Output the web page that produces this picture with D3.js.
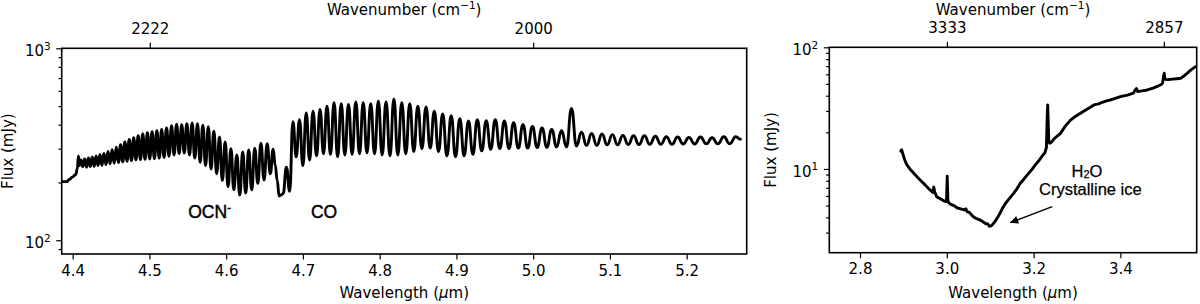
<!DOCTYPE html>
<html>
<head>
<meta charset="utf-8">
<script src="https://cdn.jsdelivr.net/npm/d3@7"></script>
<style>
    body { margin: 0; background: #fff; }
    svg text { fill: #000; }
</style>
</head>
<body>
<svg id="chart" width="1200" height="304"></svg>
<script>
// ---- left panel: 4.4 - 5.3 um spectrum (mJy) ----
// leading continuum before the CO R branch
const startWl = [4.386, 4.392, 4.396, 4.400, 4.404, 4.406, 4.4075];
const startFlux = [202, 202, 208, 214, 220, 235, 275];

// CO R-branch lines: flux at line, flux of the peak that follows
const rWl = [4.4085, 4.4132, 4.4181, 4.4230, 4.4280, 4.4331, 4.4381, 4.4434, 4.4487, 4.4541,
    4.4596, 4.4652, 4.4708, 4.4766, 4.4824, 4.4883, 4.4943, 4.5004, 4.5065, 4.5128,
    4.5191, 4.5255, 4.5321, 4.5387, 4.5454, 4.5522, 4.5591, 4.5661, 4.5731, 4.5803,
    4.5876, 4.5950, 4.6024, 4.6100, 4.6177, 4.6254, 4.6333, 4.6412, 4.6493, 4.6575];
const rBottom = [245, 242, 240, 242, 243, 245, 246, 248, 250, 252,
    254, 256, 258, 260, 262, 263, 264, 265, 266, 268,
    270, 274, 278, 283, 285, 278, 268, 255, 245, 235,
    222, 205, 190, 183, 172, 176, 183, 198, 206, 222];
const rTop = [262, 265, 268, 272, 275, 280, 283, 290, 296, 305,
    315, 325, 335, 342, 350, 358, 363, 368, 372, 378,
    385, 395, 402, 400, 405, 408, 405, 398, 390, 370,
    345, 325, 300, 278, 288, 295, 302, 320, 318];

// band gap dip between the branches
const gapWl = [4.6612, 4.6640, 4.6665, 4.6690, 4.6712];
const gapFlux = [298, 245, 205, 170, 172];

// CO P-branch lines
const pWl = [4.6742, 4.6827, 4.6912, 4.6999, 4.7087, 4.7177, 4.7268, 4.7359, 4.7452, 4.7546,
    4.7641, 4.7737, 4.7834, 4.7933, 4.8032, 4.8134, 4.8236, 4.8340, 4.8444, 4.8550,
    4.8658, 4.8766, 4.8876, 4.8988, 4.9100, 4.9214, 4.9330, 4.9447, 4.9565, 4.9685,
    4.9806, 4.9928, 5.0052, 5.0178, 5.0305, 5.0434, 5.0564, 5.0695, 5.0829, 5.0964,
    5.1100, 5.1238, 5.1378, 5.1520, 5.1663, 5.1808, 5.1955, 5.2104, 5.2255, 5.2407,
    5.2561];
const pBottom = [175, 180, 272, 245, 262, 275, 282, 280, 272, 278,
    280, 282, 285, 282, 278, 275, 278, 282, 290, 300,
    302, 290, 275, 272, 275, 280, 292, 298, 300, 300,
    302, 302, 304, 305, 306, 306, 310, 312, 312, 314,
    314, 315, 315, 316, 316, 316, 317, 317, 318, 318,
    318];
const pTop = [240, 415, 425, 460, 470, 480, 500, 520, 515, 510,
    525, 520, 515, 530, 525, 545, 520, 515, 500, 495,
    470, 455, 445, 430, 418, 425, 420, 425, 418, 410,
    400, 392, 385, 378, 372, 486, 365, 360, 358, 355,
    352, 350, 350, 348, 346, 345, 343, 345, 342, 346];
const endWl = [5.2640, 5.2700];
const endFlux = [346, 336];

// ---- right panel: 2.9 - 3.6 um (mJy) ----
const rightWl = [2.894, 2.896, 2.899, 2.903, 2.908, 2.915, 2.923, 2.933, 2.942, 2.950,
    2.958, 2.964, 2.968, 2.970, 2.972, 2.977, 2.985, 2.992, 2.998, 2.9995,
    3.0010, 3.0025, 3.004, 3.010, 3.017, 3.023, 3.032, 3.040, 3.044, 3.047,
    3.052, 3.061, 3.069, 3.077, 3.085, 3.090, 3.094, 3.098, 3.103, 3.107,
    3.111, 3.117, 3.123, 3.129, 3.135, 3.144, 3.154, 3.162, 3.169, 3.177,
    3.185, 3.195, 3.204, 3.213, 3.220, 3.226, 3.2295, 3.2315, 3.2325, 3.2335,
    3.235, 3.237, 3.241, 3.248, 3.255, 3.262, 3.273, 3.285, 3.296, 3.308,
    3.320, 3.330, 3.339, 3.350, 3.360, 3.368, 3.377, 3.390, 3.400, 3.416,
    3.430, 3.434, 3.437, 3.440, 3.450, 3.462, 3.475, 3.485, 3.492, 3.497,
    3.4995, 3.501, 3.503, 3.510, 3.520, 3.530, 3.539, 3.550, 3.562, 3.573];
const rightFlux = [14.0, 14.4, 13.2, 11.9, 10.8, 10.0, 9.3, 8.5, 7.9, 7.4,
    6.9, 6.6, 6.4, 7.1, 6.5, 5.9, 5.7, 5.5, 5.4, 5.6,
    8.7, 5.5, 5.3, 5.1, 5.0, 4.8, 4.7, 4.6, 4.7, 4.45,
    4.4, 4.05, 3.9, 3.8, 3.65, 3.55, 3.55, 3.38, 3.42, 3.55,
    3.7, 4.0, 4.35, 4.8, 5.2, 5.7, 6.3, 6.9, 7.6, 8.2,
    8.9, 9.8, 10.8, 11.8, 12.8, 13.6, 15, 28, 33.6, 26,
    17, 16.3, 16.6, 17.8, 18.7, 19.6, 22.5, 25.2, 27, 28.7,
    30.5, 32, 33.6, 34.3, 35.5, 36.3, 36.9, 38.2, 39.3, 40.5,
    42.0, 44.5, 45.8, 43.2, 43.8, 44.6, 46.2, 47.8, 49, 50.5,
    58, 61.2, 54.5, 54.2, 54.8, 55.2, 55.6, 59.5, 65, 69.3];

// ---- ticks ----
const leftXTicks = [4.4, 4.5, 4.6, 4.7, 4.8, 4.9, 5.0, 5.1, 5.2];
const rightXTicks = [2.8, 3.0, 3.2, 3.4];
const leftTopTicks = [2222, 2000];   // cm^-1
const rightTopTicks = [3333, 2857];
const leftYTicks = [100, 1000];
const rightYTicks = [10, 100];

// line dips and the peaks between them
function addTeeth(pts, wl, bottom, top) {
    wl.forEach((w, i) => {
        pts.push([w, bottom[i]]);
        if (i < top.length) pts.push([(w + wl[i + 1]) / 2, top[i]]);
    });
}

const leftSeries = startWl.map((w, i) => [w, startFlux[i]]);
addTeeth(leftSeries, rWl, rBottom, rTop);
gapWl.forEach((w, i) => leftSeries.push([w, gapFlux[i]]));
addTeeth(leftSeries, pWl, pBottom, pTop);
endWl.forEach((w, i) => leftSeries.push([w, endFlux[i]]));

const rightSeries = rightWl.map((w, i) => [w, rightFlux[i]]);

const svg = d3.select("#chart");
const tickFont = "DejaVu Sans, sans-serif";
const annFont = "Liberation Sans, Arial, sans-serif";

const panels = [
    { id: "left", left: 61.7, right: 746.7, top: 48.3, bottom: 254,
      xDom: [4.3857, 5.2782], yDom: [84.8, 1000], data: leftSeries, curve: d3.curveBumpX,
      xTicks: leftXTicks, wn: leftTopTicks, yTicks: leftYTicks, ylabX: 13 },
    { id: "right", left: 829.3, right: 1196.7, top: 47.3, bottom: 252.7,
      xDom: [2.7293, 3.5758], yDom: [2.05, 100], data: rightSeries, curve: d3.curveLinear,
      xTicks: rightXTicks, wn: rightTopTicks, yTicks: rightYTicks, ylabX: 776 }
];

panels.forEach(p => {
    const x = d3.scaleLinear().domain(p.xDom).range([p.left, p.right]);
    const y = d3.scaleLog().domain(p.yDom).range([p.bottom, p.top]);
    p.x = x;
    p.y = y;
    const g = svg.append("g").attr("id", p.id);

    g.append("clipPath").attr("id", p.id + "-clip")
        .append("rect")
        .attr("x", p.left).attr("y", p.top)
        .attr("width", p.right - p.left).attr("height", p.bottom - p.top);

    g.append("path")
        .datum(p.data)
        .attr("clip-path", `url(#${p.id}-clip)`)
        .attr("d", d3.line().curve(p.curve).x(d => x(d[0])).y(d => y(d[1])))
        .attr("fill", "none")
        .attr("stroke", "#000")
        .attr("stroke-width", 2.9)
        .attr("stroke-linejoin", "round")
        .attr("stroke-linecap", "round");

    // bottom axis
    const bx = g.append("g")
        .attr("transform", `translate(0,${p.bottom})`)
        .call(d3.axisBottom(x).tickValues(p.xTicks).tickFormat(d3.format(".1f"))
            .tickSize(5.5).tickPadding(5.5));
    // top axis, in wavenumber
    const tx = g.append("g")
        .attr("transform", `translate(0,${p.top})`)
        .call(d3.axisTop(x).tickValues(p.wn.map(v => 1e4 / v)).tickFormat((d, i) => p.wn[i])
            .tickSize(5.5).tickPadding(8.5));
    // log y axis: major and minor ticks
    const minor = y.ticks().filter(v => !p.yTicks.includes(v));
    const ly = g.append("g")
        .attr("transform", `translate(${p.left},0)`)
        .call(d3.axisLeft(y).tickValues(p.yTicks).tickFormat("").tickSize(5.5));
    const lm = g.append("g")
        .attr("transform", `translate(${p.left},0)`)
        .call(d3.axisLeft(y).tickValues(minor).tickFormat("").tickSize(3.2));

    [bx, tx, ly, lm].forEach(a => {
        a.select(".domain").remove();
        a.selectAll("line").attr("stroke-width", 1.2);
        a.selectAll("text").attr("font-family", tickFont).attr("font-size", 15);
    });

    p.yTicks.forEach(v => {
        const t = g.append("text")
            .attr("x", p.left - 11)
            .attr("y", y(v) + 8)
            .attr("text-anchor", "end")
            .attr("font-family", tickFont)
            .attr("font-size", 15);
        t.append("tspan").text("10");
        t.append("tspan").attr("font-size", 10.5).attr("dy", -6.5).text(Math.round(Math.log10(v)));
    });

    // frame
    g.append("rect")
        .attr("x", p.left).attr("y", p.top)
        .attr("width", p.right - p.left).attr("height", p.bottom - p.top)
        .attr("fill", "none").attr("stroke", "#000").attr("stroke-width", 1.6);

    const cx = (p.left + p.right) / 2;
    const xl = g.append("text")
        .attr("x", cx).attr("y", 297.5)
        .attr("text-anchor", "middle")
        .attr("font-family", tickFont).attr("font-size", 15);
    xl.append("tspan").text("Wavelength (");
    xl.append("tspan").attr("font-style", "italic").text("\u03bc");
    xl.append("tspan").text("m)");

    const wl = g.append("text")
        .attr("x", cx).attr("y", 15)
        .attr("text-anchor", "middle")
        .attr("font-family", tickFont).attr("font-size", 15);
    wl.append("tspan").text("Wavenumber (cm");
    wl.append("tspan").attr("font-size", 10.5).attr("dy", -6).text("\u22121");
    wl.append("tspan").attr("dy", 6).text(")");

    g.append("text")
        .attr("transform", `translate(${p.ylabX},${(p.top + p.bottom) / 2}) rotate(-90)`)
        .attr("text-anchor", "middle")
        .attr("font-family", tickFont).attr("font-size", 15)
        .text("Flux (mJy)");
});

// ---- annotations ----
const L = panels[0], R = panels[1];

const ocn = svg.append("text")
    .attr("x", L.x(4.5506)).attr("y", L.y(131))
    .attr("font-family", annFont).attr("font-size", 17.5)
    .attr("stroke", "#000").attr("stroke-width", 0.45);
ocn.append("tspan").text("OCN");
ocn.append("tspan").attr("font-size", 11).attr("dy", -7).text("-");

svg.append("text")
    .attr("x", L.x(4.7105)).attr("y", L.y(131))
    .attr("font-family", annFont).attr("font-size", 17.5)
    .attr("stroke", "#000").attr("stroke-width", 0.45)
    .text("CO");

const h2o = svg.append("text")
    .attr("x", R.x(3.323)).attr("y", R.y(8.64))
    .attr("text-anchor", "middle")
    .attr("font-family", annFont).attr("font-size", 16.5)
    .attr("stroke", "#000").attr("stroke-width", 0.25);
h2o.append("tspan").text("H");
h2o.append("tspan").attr("font-size", 11).attr("dy", 1.5).text("2");
h2o.append("tspan").attr("dy", -1.5).text("O");

svg.append("text")
    .attr("x", R.x(3.3308)).attr("y", R.y(6.11))
    .attr("text-anchor", "middle")
    .attr("font-family", annFont).attr("font-size", 16.5)
    .attr("stroke", "#000").attr("stroke-width", 0.25)
    .text("Crystalline ice");

svg.append("defs").append("marker")
    .attr("id", "head")
    .attr("viewBox", "0 0 10 10")
    .attr("refX", 10).attr("refY", 5)
    .attr("markerWidth", 10).attr("markerHeight", 8)
    .attr("markerUnits", "userSpaceOnUse")
    .attr("orient", "auto")
    .append("path")
    .attr("d", "M0,0L10,5L0,10Z")
    .attr("fill", "#000");

svg.append("line")
    .attr("x1", R.x(3.243)).attr("y1", R.y(4.9))
    .attr("x2", R.x(3.146)).attr("y2", R.y(3.62))
    .attr("stroke", "#000").attr("stroke-width", 1.5)
    .attr("marker-end", "url(#head)");
</script>
</body>
</html>
